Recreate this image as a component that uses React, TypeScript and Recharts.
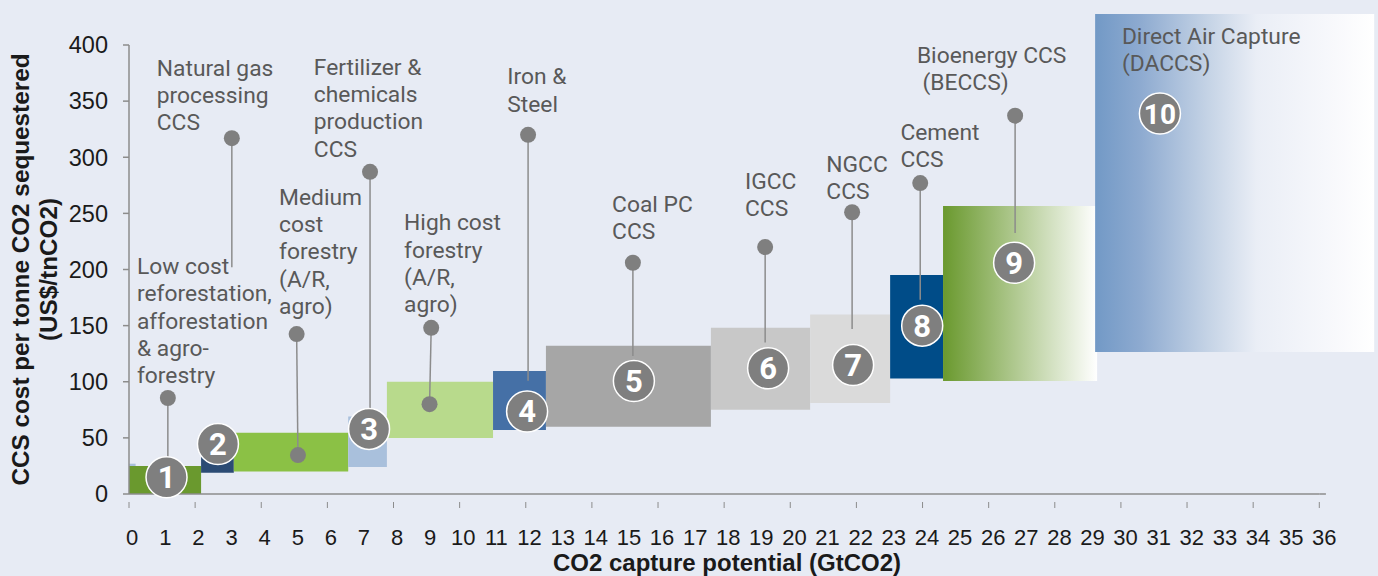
import { ScatterChart, Scatter, XAxis, YAxis, ReferenceArea, ReferenceLine, ReferenceDot } from "recharts";

const xTicks = [0, 1, 2, 3, 4, 5, 6, 7, 8, 9, 10, 11, 12, 13, 14, 15, 16, 17, 18, 19, 20, 21, 22, 23, 24, 25, 26, 27, 28, 29, 30, 31, 32, 33, 34, 35, 36];
const yTicks = [0, 50, 100, 150, 200, 250, 300, 350, 400];

// abatement blocks, drawn in this order
const blockStart = [0, 0, 2.18, 3.17, 6.63, 7.8, 11.01, 12.61, 17.6, 20.6, 23.02, 24.62, 29.22];
const blockEnd = [0.2, 2.18, 3.17, 6.63, 7.8, 11.01, 12.61, 17.6, 20.6, 23.02, 24.62, 29.28, 37.66];
const blockLow = [0, 0, 19, 20, 24, 50, 57, 60, 75, 81, 103, 100.7, 126.5];
const blockHigh = [27, 25, 33, 54.6, 69, 100, 109.5, 132, 148, 160, 195, 256.6, 427.6];
const blockColor = ["#A9C0DC", "#6A992E", "#2B4B74", "#8BC145", "#A9C0DC", "#B8DA8C", "#4570A6", "#A6A6A6", "#C8C8C8", "#DADADA", "#004C88", "url(#beccsFade)", "url(#daccsFade)"];

// leader lines: x at top, x at bottom, cost at top and bottom
const leaderTopX = [1.175, 3.11, 5.07, 7.29, 9.14, 12.07, 15.24, 19.24, 21.87, 23.93, 26.8];
const leaderEndX = [1.175, 3.11, 5.11, 7.29, 9.09, 12.07, 15.24, 19.24, 21.87, 23.93, 26.8];
const leaderTop = [85.5, 317, 142.5, 287, 148, 320, 206, 220, 251, 277, 337];
const leaderEnd = [25, 202, 34.7, 75, 80, 101, 123, 135, 147, 173, 232.5];
const endDotX = [5.11, 9.09];
const endDotY = [34.7, 80];

const badgeX = [1.135, 2.69, 7.26, 12.04, 15.27, 19.33, 21.9, 23.99, 26.77, 31.18];
const badgeY = [15, 44.5, 58, 73.5, 100.7, 112, 115, 150, 206, 339];

const labelX = [0.24, 0.84, 4.54, 5.59, 8.32, 11.44, 14.61, 18.63, 21.09, 23.33, 23.83, 30.03];
const labelY = [203, 379.5, 264.5, 380.4, 242, 372, 258.4, 278.8, 294, 322.5, 391, 408];
const labelLines = [
  ["Low cost", "reforestation,", "afforestation", "& agro-", "forestry"],
  ["Natural gas", "processing", "CCS"],
  ["Medium", "cost", "forestry", "(A/R,", "agro)"],
  ["Fertilizer &", "chemicals", "production", "CCS"],
  ["High cost", "forestry", "(A/R,", "agro)"],
  ["Iron &", "Steel"],
  ["Coal PC", "CCS"],
  ["IGCC", "CCS"],
  ["NGCC", "CCS"],
  ["Cement", "CCS"],
  ["Bioenergy CCS", " (BECCS)"],
  ["Direct Air Capture", "(DACCS)"],
];

const dotData = [
  ...leaderTopX.map((x, i) => ({ x, y: leaderTop[i] })),
  ...endDotX.map((x, i) => ({ x, y: endDotY[i] })),
];
const badgeData = badgeX.map((x, i) => ({ x, y: badgeY[i], n: i + 1 }));

const axisColor = "#8C8C8C";

const XTick = (props: any) => {
  const { x, y, payload } = props;
  const v = payload.value;
  return (
    <g>
      {v % 2 === 0 && <line x1={x} x2={x} y1={y} y2={y + 6} stroke={axisColor} strokeWidth={1} />}
      <text x={x + 3.2 + (1.8 * v) / 36} y={y + 43} textAnchor="middle" fontSize={22} fill="#1A1A1A" fontFamily="Liberation Sans">
        {v}
      </text>
    </g>
  );
};

const labelShape = (lines: string[]) => (props: any) => {
  const { cx, cy } = props;
  return (
    <text x={cx} y={cy + 8} fontFamily="Roboto" fontSize={22.8} fill="#595959" xmlSpace="preserve">
      {lines.map((l: string, i: number) => (
        <tspan key={i} x={cx} dy={i === 0 ? 0 : 27.2}>
          {l}
        </tspan>
      ))}
    </text>
  );
};

const BadgeShape = (props: any) => {
  const { cx, cy, payload } = props;
  return (
    <g>
      <circle cx={cx} cy={cy} r={20.5} fill="#7F7F7F" stroke="#FFFFFF" strokeWidth={1.5} />
      <text x={cx} y={cy + 11} textAnchor="middle" fontFamily="Roboto" fontWeight={700} fontSize={payload.n === 10 ? 28 : 31} fill="#FFFFFF">
        {payload.n}
      </text>
    </g>
  );
};

const App = () => {
  return (
    <div style={{ position: "absolute", left: 0, top: 0, width: 1378, height: 576, background: "#E7EBF4", overflow: "hidden" }}>
      <ScatterChart width={1378} height={576} margin={{ top: 45, right: 58.7, bottom: 22, left: 0 }}>
        <defs>
          <linearGradient id="beccsFade" x1="0" y1="0" x2="1" y2="0">
            <stop offset="0%" stopColor="#6A992E" />
            <stop offset="100%" stopColor="#FFFFFF" />
          </linearGradient>
          <linearGradient id="daccsFade" x1="0" y1="0" x2="1" y2="0">
            <stop offset="0%" stopColor="#7299C6" />
            <stop offset="16%" stopColor="#8DAAD0" />
            <stop offset="41%" stopColor="#C6D4E6" />
            <stop offset="58%" stopColor="#EAEEF6" />
            <stop offset="82%" stopColor="#F6F7FB" />
            <stop offset="100%" stopColor="#FFFFFF" />
          </linearGradient>
        </defs>
        <XAxis
          type="number"
          dataKey="x"
          domain={[0, 36]}
          ticks={xTicks}
          interval={0}
          height={60}
          tick={XTick}
          tickLine={false}
          stroke={axisColor}
          strokeWidth={1.5}
        />
        <YAxis
          type="number"
          dataKey="y"
          domain={[0, 400]}
          ticks={yTicks}
          interval={0}
          width={129}
          tickSize={6}
          tickMargin={15}
          stroke={axisColor}
          strokeWidth={1.5}
          tick={{ fontSize: 23.5, fill: "#1A1A1A", fontFamily: "Liberation Sans", stroke: "none" }}
        />
        {blockStart.map((x, i) => (
          <ReferenceArea
            key={i}
            x1={x}
            x2={blockEnd[i]}
            y1={blockLow[i]}
            y2={blockHigh[i]}
            fill={blockColor[i]}
            fillOpacity={1}
            stroke="none"
            ifOverflow="visible"
          />
        ))}
        {/* axis line runs a little past the last tick */}
        <ReferenceLine
          segment={[
            { x: 36, y: 0 },
            { x: 36.2, y: 0 },
          ]}
          stroke={axisColor}
          strokeWidth={1.5}
          ifOverflow="visible"
        />
        {leaderTopX.map((x, i) => (
          <ReferenceLine
            key={i}
            segment={[
              { x, y: leaderTop[i] },
              { x: leaderEndX[i], y: leaderEnd[i] },
            ]}
            stroke={axisColor}
            strokeWidth={1.5}
            ifOverflow="visible"
          />
        ))}
        <Scatter data={dotData} fill="#7F7F7F" isAnimationActive={false} shape={(p: any) => <circle cx={p.cx} cy={p.cy} r={8} fill="#7F7F7F" />} />
        <Scatter data={badgeData} isAnimationActive={false} shape={BadgeShape} />
        {labelX.map((x, i) => (
          <ReferenceDot key={i} x={x} y={labelY[i]} ifOverflow="visible" shape={labelShape(labelLines[i])} />
        ))}
        <g fontFamily="Liberation Sans" fontWeight={700} fontSize={24.3} fill="#1A1A1A">
          <text transform="translate(29,269.5) rotate(-90)" textAnchor="middle">
            CCS cost per tonne CO2 sequestered
          </text>
          <text transform="translate(57,269.5) rotate(-90)" textAnchor="middle">
            (US$/tnCO2)
          </text>
          <text x={727} y={571} textAnchor="middle" fontSize={24}>
            CO2 capture potential (GtCO2)
          </text>
        </g>
      </ScatterChart>
    </div>
  );
};

export default App;
